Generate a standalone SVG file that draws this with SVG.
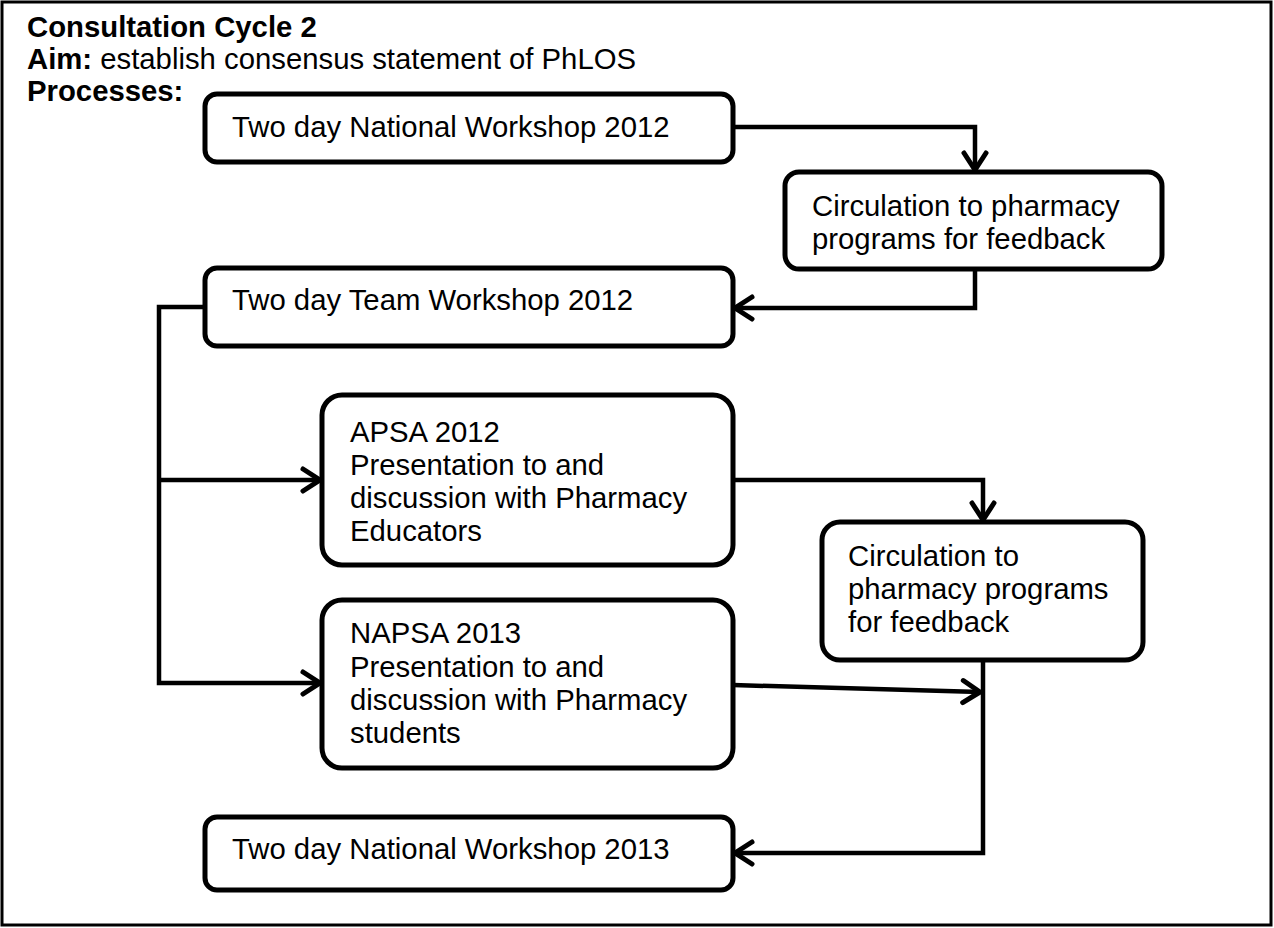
<svg xmlns="http://www.w3.org/2000/svg" width="1274" height="928" viewBox="0 0 1274 928">
  <defs>
    <style>
      .frame { fill: #ffffff; stroke: #000000; stroke-width: 3; }
      .box { fill: #ffffff; stroke: #000000; stroke-width: 5; }
      .conn { fill: none; stroke: #000000; stroke-width: 4.5; stroke-linejoin: miter; }
      .t { font-family: "Liberation Sans", Arial, sans-serif; font-size: 29.3px; fill: #000000; }
      .b { font-weight: bold; }
    </style>
    <marker id="arr" markerUnits="userSpaceOnUse" markerWidth="26" markerHeight="30" refX="20" refY="14" orient="auto" overflow="visible">
      <path d="M3,3 L20,14 L3,25" fill="none" stroke="#000000" stroke-width="5" stroke-linecap="round" stroke-linejoin="miter"/>
    </marker>
  </defs>

  <rect class="frame" x="2" y="2" width="1269" height="923"/>

  <g id="header">
    <text class="t b" x="27" y="37">Consultation Cycle 2</text>
    <text class="t" x="27" y="69"><tspan class="b">Aim:</tspan> establish consensus statement of PhLOS</text>
    <text class="t b" x="27" y="101">Processes:</text>
  </g>

  <g id="connectors">
    <path class="conn" d="M733,127 H975 V170" marker-end="url(#arr)"/>
    <path class="conn" d="M975,270 V308 H735" marker-end="url(#arr)"/>
    <path class="conn" d="M205,307 H159 V683 H320" marker-end="url(#arr)"/>
    <path class="conn" d="M159,480 H320" marker-end="url(#arr)"/>
    <path class="conn" d="M733,480 H983 V520" marker-end="url(#arr)"/>
    <path class="conn" d="M733,685 L980,692" marker-end="url(#arr)"/>
    <path class="conn" d="M983,660 V853 H735" marker-end="url(#arr)"/>
  </g>

  <g id="national2012">
    <rect class="box" x="205" y="94" width="528" height="68" rx="12"/>
    <text class="t" x="232" y="137">Two day National Workshop 2012</text>
  </g>

  <g id="circulation1">
    <rect class="box" x="785" y="172" width="377" height="97" rx="14"/>
    <text class="t" x="812" y="216">Circulation to pharmacy</text>
    <text class="t" x="812" y="249">programs for feedback</text>
  </g>

  <g id="team2012">
    <rect class="box" x="205" y="268" width="528" height="78" rx="12"/>
    <text class="t" x="232" y="310">Two day Team Workshop 2012</text>
  </g>

  <g id="apsa2012">
    <rect class="box" x="322" y="395" width="411" height="170" rx="20"/>
    <text class="t" x="350" y="442">APSA 2012</text>
    <text class="t" x="350" y="475">Presentation to and</text>
    <text class="t" x="350" y="508">discussion with Pharmacy</text>
    <text class="t" x="350" y="541">Educators</text>
  </g>

  <g id="circulation2">
    <rect class="box" x="822" y="522" width="321" height="138" rx="18"/>
    <text class="t" x="848" y="566">Circulation to</text>
    <text class="t" x="848" y="599">pharmacy programs</text>
    <text class="t" x="848" y="632">for feedback</text>
  </g>

  <g id="napsa2013">
    <rect class="box" x="322" y="600" width="411" height="168" rx="20"/>
    <text class="t" x="350" y="643">NAPSA 2013</text>
    <text class="t" x="350" y="677">Presentation to and</text>
    <text class="t" x="350" y="710">discussion with Pharmacy</text>
    <text class="t" x="350" y="743">students</text>
  </g>

  <g id="national2013">
    <rect class="box" x="205" y="817" width="528" height="73" rx="12"/>
    <text class="t" x="232" y="859">Two day National Workshop 2013</text>
  </g>
</svg>
